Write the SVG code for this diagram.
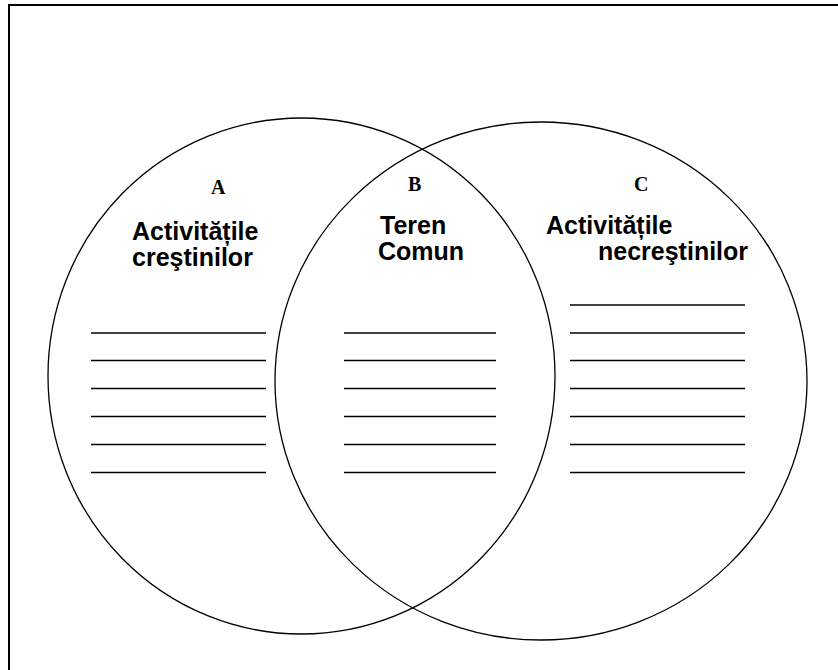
<svg xmlns="http://www.w3.org/2000/svg" width="838" height="670" viewBox="0 0 838 670">
<style>
.frame{fill:none;stroke:#000;stroke-width:2}
.circ{fill:none;stroke:#000;stroke-width:1.3}
.ln{stroke:#000;stroke-width:1.3}
.let{font-family:"Liberation Serif",serif;font-weight:bold;font-size:20px;fill:#000}
.lab{font-family:"Liberation Sans",Arial,sans-serif;font-weight:bold;font-size:25px;fill:#000}
</style>
<rect class="frame" x="9" y="5" width="840" height="680"/>
<g id="circleA"><ellipse class="circ" cx="301.5" cy="376" rx="253.5" ry="258"/></g>
<g id="circleC"><ellipse class="circ" cx="541" cy="381" rx="266" ry="259"/></g>
<g id="regionA">
<text class="let" x="211" y="194">A</text>
<text class="lab" x="132" y="240">Activitățile</text>
<text class="lab" x="132" y="266">creştinilor</text>
<g class="ln">
<line x1="91" y1="333" x2="266" y2="333"/>
<line x1="91" y1="360.5" x2="266" y2="360.5"/>
<line x1="91" y1="388.5" x2="266" y2="388.5"/>
<line x1="91" y1="416.5" x2="266" y2="416.5"/>
<line x1="91" y1="444.5" x2="266" y2="444.5"/>
<line x1="91" y1="472.5" x2="266" y2="472.5"/>
</g>
</g>
<g id="regionB">
<text class="let" x="408" y="191">B</text>
<text class="lab" x="380" y="234">Teren</text>
<text class="lab" x="378" y="260">Comun</text>
<g class="ln">
<line x1="344" y1="333" x2="496" y2="333"/>
<line x1="344" y1="360.5" x2="496" y2="360.5"/>
<line x1="344" y1="388.5" x2="496" y2="388.5"/>
<line x1="344" y1="416.5" x2="496" y2="416.5"/>
<line x1="344" y1="444.5" x2="496" y2="444.5"/>
<line x1="344" y1="472.5" x2="496" y2="472.5"/>
</g>
</g>
<g id="regionC">
<text class="let" x="634" y="191">C</text>
<text class="lab" x="546" y="234">Activitățile</text>
<text class="lab" x="598" y="260">necreştinilor</text>
<g class="ln">
<line x1="570" y1="305" x2="745" y2="305"/>
<line x1="570" y1="333" x2="745" y2="333"/>
<line x1="570" y1="360.5" x2="745" y2="360.5"/>
<line x1="570" y1="388.5" x2="745" y2="388.5"/>
<line x1="570" y1="416.5" x2="745" y2="416.5"/>
<line x1="570" y1="444.5" x2="745" y2="444.5"/>
<line x1="570" y1="472.5" x2="745" y2="472.5"/>
</g>
</g>
</svg>
